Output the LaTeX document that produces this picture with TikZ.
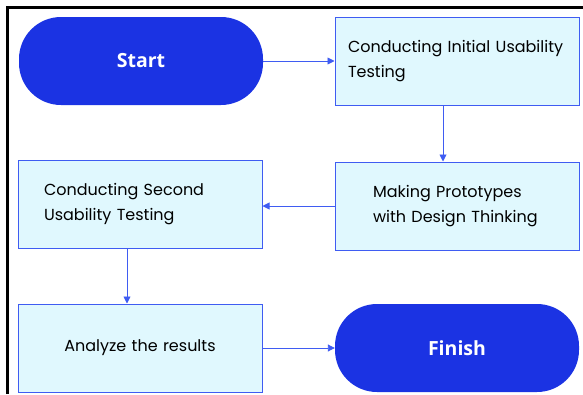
\documentclass[tikz,border=0pt]{standalone}
\usepackage{fontspec}
\setmainfont{Poppins}
\newfontfamily\fonteb{Open Sans}
\usetikzlibrary{arrows.meta}
\definecolor{azulforte}{HTML}{1B33E3}
\definecolor{azulborda}{HTML}{3F5CF2}
\definecolor{azulclaro}{HTML}{E0F8FE}
\begin{document}
\begin{tikzpicture}[
                x=1pt, y=-1pt,
                terminal/.style={shape=rectangle, rounded corners=42pt, fill=azulforte, text=white,
                    minimum width=244pt, minimum height=88pt, font=\fonteb\bfseries\fontsize{19.5}{22}\selectfont},
                etapa/.style={shape=rectangle, draw=azulborda, fill=azulclaro, line width=1pt,
                    minimum width=244pt, minimum height=88pt, text width=#1, align=left,
                    font=\fontsize{16}{24.5}\selectfont},
                seta/.style={draw=azulborda, line width=0.9pt, -{Triangle[length=7pt, width=7pt]}},
            ]
            \useasboundingbox (0, 0) rectangle (583, 394);
            \draw[line width=3pt] (7.5, 394) -- (7.5, 7.5) -- (583, 7.5);
            \node[terminal] (inicio) at (141, 61) {Start};
            \node[etapa=218pt] (teste1) at (457, 61) {Conducting Initial Usability\\Testing};
            \node[etapa=168pt] (prot) at (457, 206) {Making Prototypes\\with Design Thinking};
            \node[etapa=192pt] (teste2) at (140, 204) {Conducting Second\\Usability Testing};
            \node[etapa=200pt, align=center] (anal) at (140, 348) {Analyze the results};
            \node[terminal] (fim) at (457, 348) {Finish};
            \draw[seta] (inicio) -- (teste1);
            \draw[seta] ([xshift=-14pt]teste1.south) -- ([xshift=-14pt]prot.north);
            \draw[seta] (prot.west) -- (prot.west -| teste2.east);
            \draw[seta] ([xshift=-13pt]teste2.south) -- ([xshift=-13pt]teste2.south |- anal.north);
            \draw[seta] (anal) -- (fim);
        \end{tikzpicture}
\end{document}
